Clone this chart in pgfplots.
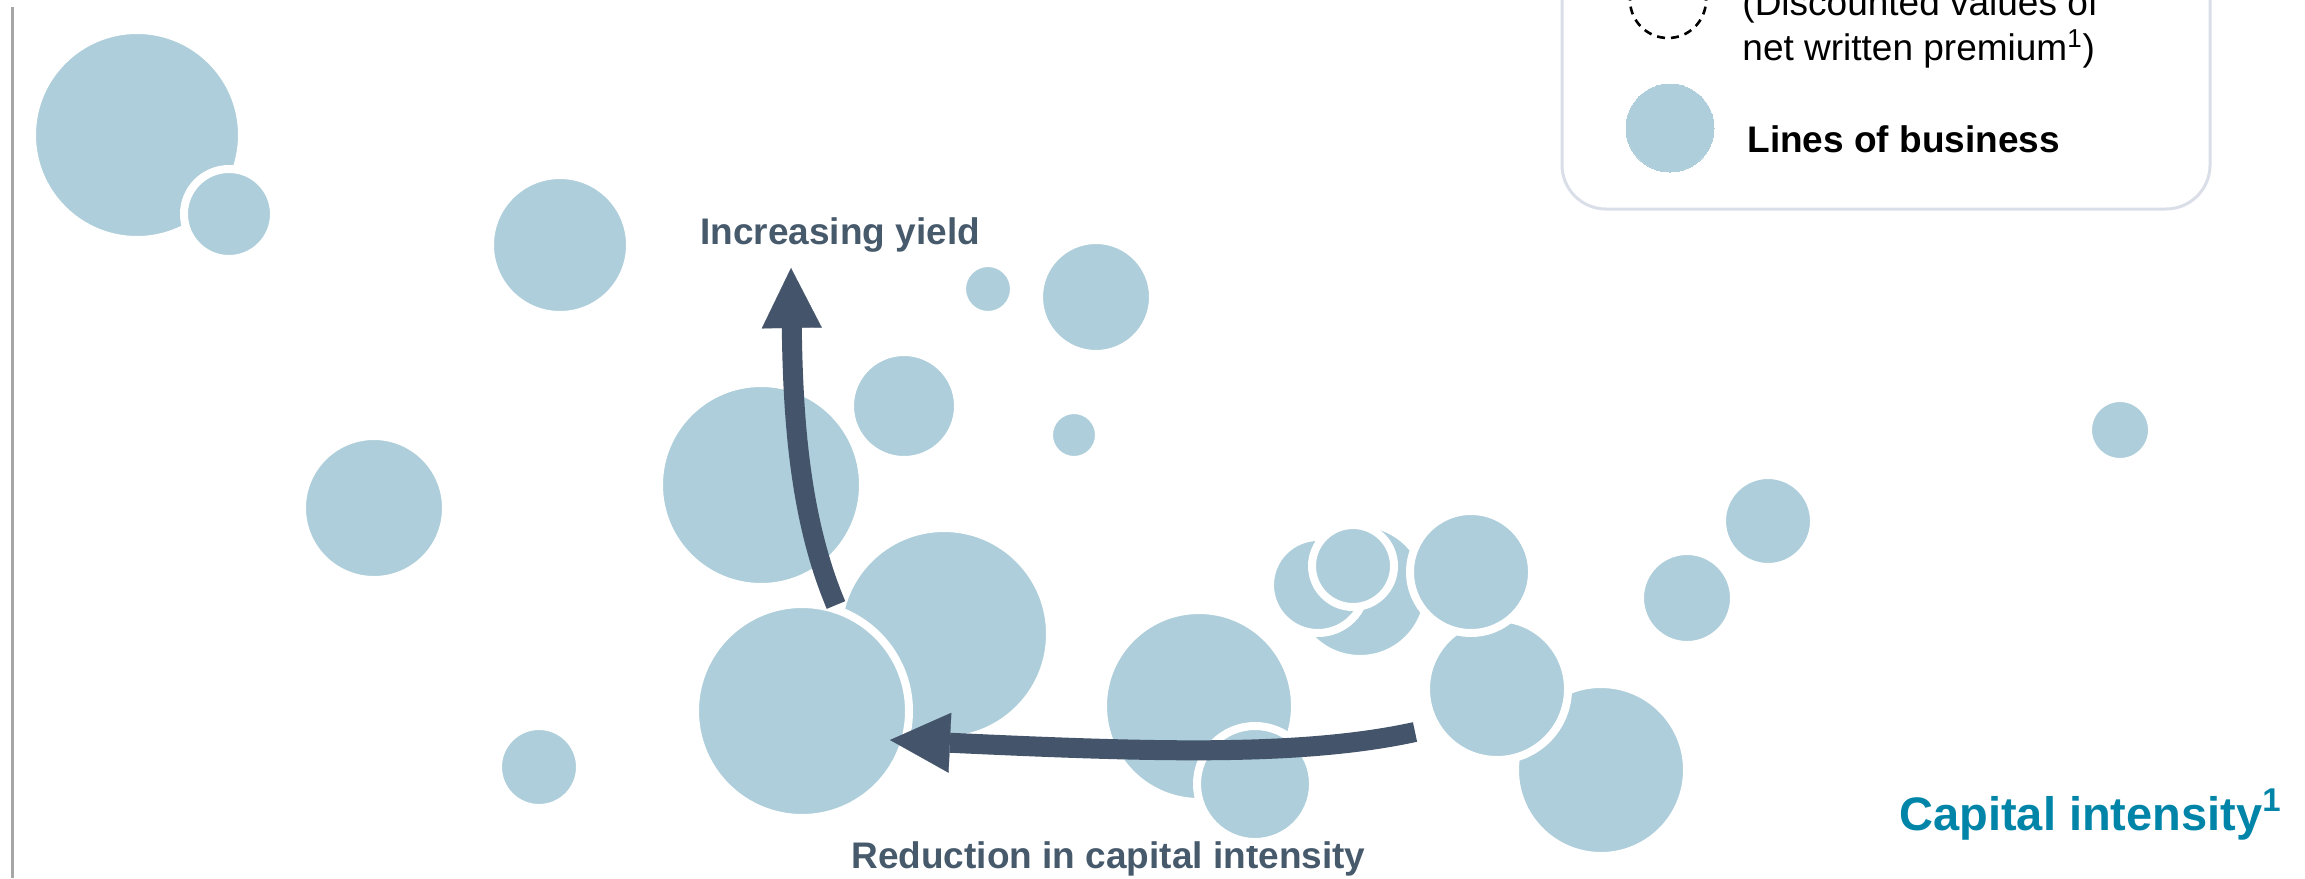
\documentclass[border=0pt]{standalone}
\usepackage{pgfplots}
\usepackage{pgfplotstable}
\pgfplotsset{compat=1.18}
\usepackage{fontspec}
\setmainfont{Liberation Sans}
\usetikzlibrary{arrows.meta}
\definecolor{bub}{HTML}{ADCEDA}
\definecolor{slate}{HTML}{44546A}
\definecolor{txtslate}{HTML}{475A6C}
\definecolor{capteal}{HTML}{0084A8}
\definecolor{boxline}{HTML}{D9DEE8}
\definecolor{axgray}{HTML}{A6A6A6}

% x, y in pixel positions (y downward), r = bubble radius
\pgfplotstableread{
x y r
137 135 101
229 214 41
560 245 66
374 508 68
539 767 37
988 289 22
1096 297 53
904 406 50
1074 435 21
761 485 98
944 634 102
802 711 103
1199 706 92
1255 784 54
1360 591 64
1318 585 44
1353 566 37
1601 770 82
1497 689 67
1471 572 57
1687 598 43
1768 521 42
2120 430 28
}\bubbles

\begin{document}
\begin{tikzpicture}
\path[use as bounding box] (0,0) rectangle (1152.5pt,439pt);
\clip (0,0) rectangle (1152.5pt,439pt);
\begin{axis}[at={(0,0)}, anchor=south west, scale only axis,
  width=1152.5pt, height=439pt,
  xmin=0, xmax=2305, ymin=0, ymax=878, y dir=reverse,
  hide axis, clip=false]
\draw[axgray, line width=1.5pt] (axis cs:12.5,7) -- (axis cs:12.5,878);
\addplot[scatter, only marks, mark=*,
  scatter/use mapped color={draw=white, fill=bub},
  mark options={line width=4pt},
  visualization depends on={(\thisrow{r}+4)/2 \as \ms},
  scatter/@pre marker code/.append style={/tikz/mark size=\ms}]
  table[x=x, y=y] {\bubbles};

% legend
\draw[boxline, line width=1.5pt, rounded corners=22pt] (axis cs:1562,-80) rectangle (axis cs:2210,209);
\addplot[only marks, mark=o, mark size=19pt,
  mark options={draw=black, line width=1.3pt, dash pattern=on 4pt off 3pt}]
  coordinates {(1668,0)};
\addplot[only marks, mark=*, mark size=22pt,
  mark options={draw=bub, fill=bub, line width=0pt}]
  coordinates {(1670,128)};
\node[anchor=base west, inner sep=0pt, font=\fontsize{18.5pt}{22pt}\selectfont] at (axis cs:1742,15) {(Discounted values of};
\node[anchor=base west, inner sep=0pt, font=\fontsize{18.5pt}{22pt}\selectfont] at (axis cs:1742,60) {net written premium\textsuperscript{1})};
\node[anchor=base west, inner sep=0pt, font=\fontsize{18.5pt}{22pt}\selectfont\bfseries] at (axis cs:1747,152) {Lines of business};

% arrow anchor points
\coordinate (a1s) at (axis cs:836,605);
\coordinate (a1c1) at (axis cs:800,520);
\coordinate (a1c2) at (axis cs:793,420);
\coordinate (a1e) at (axis cs:791,268);
\coordinate (a2s) at (axis cs:1415,732);
\coordinate (a2c1) at (axis cs:1300,757);
\coordinate (a2c2) at (axis cs:1150,752);
\coordinate (a2e) at (axis cs:890,740);

% labels
\node[anchor=base west, inner sep=0pt, text=txtslate, font=\fontsize{18.5pt}{22pt}\selectfont\bfseries] at (axis cs:700,244) {Increasing yield};
\node[anchor=base west, inner sep=0pt, text=txtslate, font=\fontsize{18.5pt}{22pt}\selectfont\bfseries] at (axis cs:851,868) {Reduction in capital intensity};
\node[anchor=base west, inner sep=0pt, text=capteal, font=\fontsize{23.5pt}{28pt}\selectfont\bfseries] at (axis cs:1899,830) {Capital intensity\textsuperscript{1}};
\end{axis}
% arrows drawn over the bubbles
\draw[slate, line width=10pt, -{Triangle[length=30pt, width=30pt, line width=0.1pt]}]
  (a1s) .. controls (a1c1) and (a1c2) .. (a1e);
\draw[slate, line width=10pt, -{Triangle[length=30pt, width=30pt, line width=0.1pt]}]
  (a2s) .. controls (a2c1) and (a2c2) .. (a2e);
\end{tikzpicture}
\end{document}
